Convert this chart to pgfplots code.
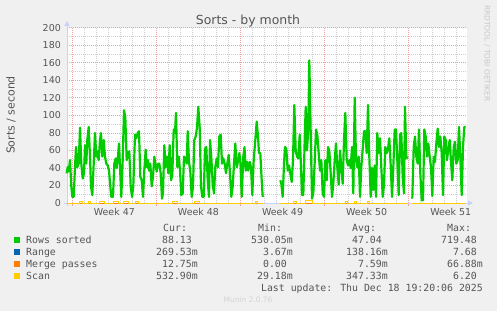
\documentclass[border=0pt]{standalone}
\usepackage{fontspec}
\setmainfont{DejaVu Sans}
\newfontfamily\mono{DejaVu Sans Mono}
\usepackage{pgfplots}
\pgfplotsset{compat=1.18}
\usetikzlibrary{arrows.meta}
\definecolor{bg}{HTML}{F0F0F0}
\definecolor{txt}{HTML}{555555}
\definecolor{cgreen}{HTML}{00CC00}
\definecolor{cblue}{HTML}{0066B3}
\definecolor{corange}{HTML}{FF8000}
\definecolor{cyellow}{HTML}{FFCC00}
\definecolor{gmaj}{RGB}{236,160,160}
\definecolor{gmin}{RGB}{205,205,205}
\definecolor{axisc}{RGB}{200,208,255}
\definecolor{faint}{RGB}{200,200,200}
\begin{document}
\begin{tikzpicture}[x=1bp,y=1bp]
\fill[bg] (0,0) rectangle (497,311);
\begin{axis}[at={(67bp,108bp)}, anchor=south west, scale only axis,
  width=400bp, height=175bp,
  xmin=67, xmax=467, ymin=0, ymax=200,
  clip=false,
  axis background/.style={fill=white},
  axis line style={draw=none},
  /pgf/number format/assume math mode=true,
  xtick={72.5,156.5,240.5,324.5,408.5}, xticklabels={},
  minor xtick={84.5,96.5,108.5,120.5,132.5,144.5,168.5,180.5,192.5,204.5,216.5,228.5,252.5,264.5,276.5,288.5,300.5,312.5,336.5,348.5,360.5,372.5,384.5,396.5,420.5,432.5,444.5,456.5},
  ytick={0,20,...,200},
  minor ytick={10,30,...,190},
  grid=both,
  major grid style={draw=gmaj, line width=1bp, dash pattern=on 1bp off 1bp},
  minor grid style={draw=gmin, line width=1bp, dash pattern=on 1bp off 1bp},
  major tick length=0pt,
  minor tick length=0pt,
  extra x ticks={114.35,198.45,282.55,366.65,450.75},
  extra x tick labels={Week 47,Week 48,Week 49,Week 50,Week 51},
  extra x tick style={grid=none},
  xticklabel style={font=\fontsize{9.5}{11}\selectfont, text=txt, anchor=north, inner sep=0pt, yshift=-5.5bp},
  yticklabel style={font=\fontsize{9.5}{11}\selectfont, text=txt, anchor=east, inner sep=0pt, xshift=-6bp},
]
\draw[gmaj, line width=1bp] (axis cs:72.5,0) -- (axis cs:72.5,-3.43);
\draw[gmaj, line width=1bp] (axis cs:156.5,0) -- (axis cs:156.5,-3.43);
\draw[gmaj, line width=1bp] (axis cs:240.5,0) -- (axis cs:240.5,-3.43);
\draw[gmaj, line width=1bp] (axis cs:324.5,0) -- (axis cs:324.5,-3.43);
\draw[gmaj, line width=1bp] (axis cs:408.5,0) -- (axis cs:408.5,-3.43);
\draw[axisc, line width=1bp, -{Triangle[width=5bp,length=5bp]}] (rel axis cs:-0.0075,0) -- (rel axis cs:1.015,0);
\draw[axisc, line width=1bp, -{Triangle[width=5bp,length=5bp]}] (rel axis cs:0,-0.017) -- (rel axis cs:0,1.04);
% Rows sorted
\addplot[cgreen, line width=2.2bp, line join=round, mark=none] coordinates {
(66.7,34)(67.7,41)(68.7,36)(70,49)(71.3,19)(72.3,7)(73.7,7)(75,41)(76,64)(77.3,41)(78.7,45)(80,86)(81.3,45)(82.7,28)(84,34)(85,66)(86.3,45)(87.3,72)(88.7,87)(90,53)(91,19)(92.3,9)(93.7,45)(95,80)(96.3,53)(97.3,59)(98.7,49)(100,72)(101,80)(102.3,53)(103.7,72)(105,53)(106.3,45)(107.7,43)(109,37)(110.3,19)(111.3,7)(113,7)(114.3,45)(115.7,51)(116.7,40)(118,53)(119,68)(120,41)(121.3,7)(122.7,49)(124,106)(125.3,98)(126.7,49)(128,57)(129.3,59)(130.7,19)(132,7)(133.3,19)(135,78)(136.3,74)(137.7,80)(139,82)(140.3,30)(141.7,26)(143,7)(144.3,37)(145.7,61)(146.7,41)(148,49)(149,37)(150.3,45)(151.7,19)(153,30)(154.3,53)(155.3,45)(156.7,36)(158,45)(159.3,45)(160.7,34)(162,5)(163,11)(164.3,66)(165.7,41)(167,53)(168.3,34)(169.7,66)(171,26)(172.3,32)(173.7,84)(175,80)(176,103)(177.3,41)(178.7,53)(180,37)(181.3,9)(182.7,11)(184,53)(185.3,51)(186.7,45)(187.7,82)(189,47)(190.3,36)(191.7,7)(193,19)(194.3,72)(195.7,76)(197,86)(198.3,110)(199.7,86)(201,19)(202.3,7)(203.7,7)(205,62)(206.3,64)(207.7,26)(209,7)(210,72)(211.3,53)(212.7,21)(214,11)(215.3,41)(216.7,51)(218,41)(219.3,76)(220.7,78)(222,45)(223.3,51)(224.7,45)(226,34)(227.3,45)(228.7,55)(230,34)(231.3,7)(232.7,19)(234,45)(235.3,68)(236.7,41)(238,47)(239.3,57)(240.5,45)(241.7,7)(243.3,53)(244.5,64)(245.7,37)(247,47)(248.3,37)(249.7,47)(251,41)(252.3,9)(253.7,49)(255.3,72)(256.7,93)(258,76)(259,57)(260.3,57)(261.7,26)(262.7,7)
};
\addplot[cgreen, line width=2.2bp, line join=round, mark=none] coordinates {
(280.3,26)(281.3,22)(282.7,7)(284,45)(285,64)(286.3,62)(287.7,37)(289,43)(290.3,34)(291.7,24)(293,49)(294.3,112)(295.7,60)(297,53)(298.3,51)(299.7,78)(301,41)(302,9)(303.3,9)(304.7,72)(305.7,110)(307,60)(308.3,85)(309.3,163)(310.7,80)(312,5)(313.3,11)(314.7,47)(316,84)(317.3,78)(318.7,57)(320,37)(321.3,49)(322.7,11)(324,7)(325.3,49)(326.7,26)(328,64)(329.3,60)(330.7,34)(332,7)(333.3,22)(334.7,49)(336,68)(337.3,41)(338.7,21)(340,60)(341.3,41)(342.7,22)(344,72)(345.3,103)(346.7,49)(348,43)(349.3,49)(350.7,40)(352,64)(353.3,11)(354.7,120)(356,49)(357.3,41)(358.7,53)(360,7)(361.3,41)(362.7,62)(364,82)(365.3,82)(366.7,57)(368,112)(369.3,53)(370.7,7)(372,40)(373.3,15)(374.7,43)(376,7)(377.3,80)(378.7,57)(380,74)(381.3,41)(382.7,7)(384,21)(385.3,64)(386.7,57)(388,62)(389.3,74)(390.7,43)(392,7)(393.3,41)(394.7,84)(396,84)(397.3,49)(398.7,9)(400,78)(401.3,80)(402.7,30)(404,11)(405,110)(406.3,51)(407.7,53)
};
\addplot[cgreen, line width=2.2bp, line join=round, mark=none] coordinates {
(412.3,5)(413.7,64)(415,76)(416.3,53)(417.7,45)(419,84)(420.3,34)(421.7,3)(423,3)(424.3,84)(425.7,76)(427,53)(428.3,68)(429.7,53)(431,41)(432.3,8)(433.7,53)(435,47)(436.3,68)(437.7,85)(439,64)(440.3,76)(441.7,57)(443,9)(444.3,76)(445.7,72)(447,49)(448.3,62)(449.7,72)(451,47)(452.3,26)(453.7,64)(455,70)(456.3,45)(457.7,49)(459,87)(460.3,53)(461.7,9)(463,64)(464.3,87)(465.7,87)
};
% Range
\addplot[cblue, line width=1bp, mark=none] coordinates {(66.7,0)(262.7,0)};
\addplot[cblue, line width=1bp, mark=none] coordinates {(280.3,0)(407.7,0)};
\addplot[cblue, line width=1bp, mark=none] coordinates {(412.3,0)(465.7,0)};
% Merge passes
\addplot[corange, line width=1bp, mark=none] coordinates {(66.7,0)(262.7,0)};
\addplot[corange, line width=1bp, mark=none] coordinates {(280.3,0)(407.7,0)};
\addplot[corange, line width=1bp, mark=none] coordinates {(412.3,0)(465.7,0)};
% Scan
\addplot[cyellow, line width=1bp, mark=none] coordinates {
(66.7,0)(79,0)(79,2)(82,2)(82,0)(88,0)(88,2)(90,2)(90,0)(99,0)(99,2)(104,2)(104,0)(113,0)(113,2)(118,2)(118,0)(123,0)(123,2)(128,2)(128,0)(135,0)(135,2)(138,2)(138,0)(172,0)(172,2)(177,2)(177,0)(194,0)(194,2)(199,2)(199,0)(255,0)(255,2)(257,2)(257,0)(262.7,0)
};
\addplot[cyellow, line width=1bp, mark=none] coordinates {
(280.3,0)(293,0)(293,2)(296,2)(296,0)(305,0)(305,2.5)(312,2.5)(312,0)(345,0)(345,2)(347,2)(347,0)(354,0)(354,2)(356,2)(356,0)(367,0)(367,2)(369,2)(369,0)(407.7,0)
};
\addplot[cyellow, line width=1bp, mark=none] coordinates {(412.3,0)(465.7,0)};
\end{axis}
% titles
\node[anchor=base, inner sep=0pt, text=txt, font=\fontsize{12.5}{14}\selectfont] at (248,287) {Sorts - by month};
\node[rotate=90, inner sep=0pt, text=txt, font=\fontsize{11}{13}\selectfont] at (11,196) {Sorts / second};
\node[rotate=-90, anchor=west, inner sep=0pt, text=faint, font=\fontsize{7.5}{9}\selectfont] at (487,306) {RRDTOOL / TOBI OETIKER};
% legend
\begin{scope}[every node/.style={inner sep=0pt, text=txt, font=\mono\fontsize{9.9}{12}\selectfont}]
\node[anchor=base west] at (163,79.5) {Cur:};
\node[anchor=base west] at (258,79.5) {Min:};
\node[anchor=base west] at (352,79.5) {Avg:};
\node[anchor=base west] at (447,79.5) {Max:};
\fill[cgreen] (14,68.3) rectangle (20,74.3);
\fill[cblue] (14,56.3) rectangle (20,62.3);
\fill[corange] (14,44.3) rectangle (20,50.3);
\fill[cyellow] (14,32.3) rectangle (20,38.3);
\node[anchor=base west] at (26,67.7) {Rows sorted};
\node[anchor=base west] at (26,55.7) {Range};
\node[anchor=base west] at (26,43.7) {Merge passes};
\node[anchor=base west] at (26,31.7) {Scan};
% Cur
\node[anchor=base east] at (192.05,67.7) {88.13};
\node[anchor=base east] at (198,55.7) {269.53m};
\node[anchor=base east] at (198,43.7) {12.75m};
\node[anchor=base east] at (198,31.7) {532.90m};
% Min
\node[anchor=base east] at (293,67.7) {530.05m};
\node[anchor=base east] at (293,55.7) {3.67m};
\node[anchor=base east] at (287.05,43.7) {0.00};
\node[anchor=base east] at (293,31.7) {29.18m};
% Avg
\node[anchor=base east] at (382.05,67.7) {47.04};
\node[anchor=base east] at (388,55.7) {138.16m};
\node[anchor=base east] at (388,43.7) {7.59m};
\node[anchor=base east] at (388,31.7) {347.33m};
% Max
\node[anchor=base east] at (477.05,67.7) {719.48};
\node[anchor=base east] at (477.05,55.7) {7.68};
\node[anchor=base east] at (483,43.7) {66.88m};
\node[anchor=base east] at (477.05,31.7) {6.20};
\node[anchor=base east] at (483,19.5) {Last update: Thu Dec 18 19:20:06 2025};
\end{scope}
\node[inner sep=0pt, text=faint!80, font=\fontsize{7.5}{9}\selectfont] at (248,11) {Munin 2.0.76};
\pgfresetboundingbox
\useasboundingbox (0,0) rectangle (497,311);
\end{tikzpicture}
\end{document}
